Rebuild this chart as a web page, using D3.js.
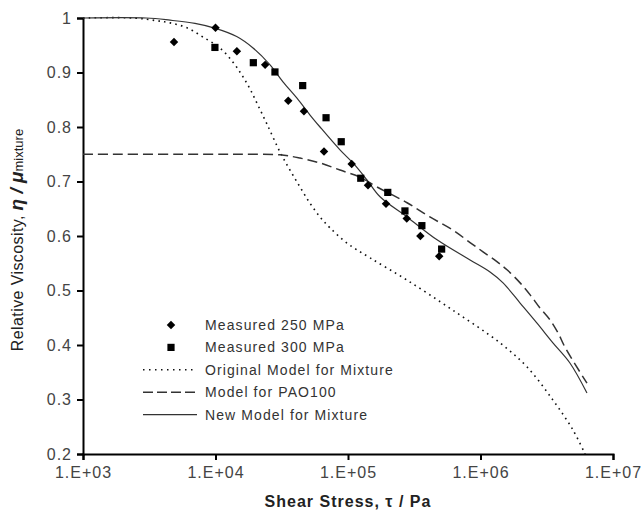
<!DOCTYPE html>
<html>
<head>
<meta charset="utf-8">
<script src="https://cdn.jsdelivr.net/npm/d3@7"></script>
<style>
  body { margin: 0; background: #fff; }
  svg { font-family: "Liberation Sans", Arial, sans-serif; }
</style>
</head>
<body>
<div id="graph"></div>
<script>
var width = 642;
var height = 515;

// measured points [shear stress Pa, relative viscosity]
var measured250 = [
  [4860, 0.956], [10000, 0.982], [14500, 0.939], [23700, 0.914], [35400, 0.848],
  [46500, 0.829], [65900, 0.755], [106600, 0.732], [141600, 0.693], [193600, 0.659],
  [277500, 0.632], [351600, 0.600], [488000, 0.563]
];
var measured300 = [
  [9900, 0.946], [19300, 0.918], [28100, 0.901], [45500, 0.876], [68300, 0.817],
  [88900, 0.773], [124800, 0.706], [199600, 0.680], [269000, 0.646], [361000, 0.619],
  [509000, 0.576]
];
// model curves
var originalModel = [
  [1000, 1.0], [2400, 1.0], [3610, 0.995], [4540, 0.991], [6100, 0.982], [8050, 0.965],
  [10800, 0.945], [13550, 0.919], [15850, 0.895], [18200, 0.870], [20900, 0.840],
  [24500, 0.805], [30700, 0.754], [36500, 0.721], [43400, 0.690], [51700, 0.660],
  [61500, 0.635], [73100, 0.615], [98200, 0.587], [146500, 0.560], [279000, 0.519],
  [617000, 0.464], [1400000, 0.404], [2240000, 0.360], [3520000, 0.299],
  [4990000, 0.244], [6150000, 0.2]
];
var pao100Model = [
  [1000, 0.75], [10000, 0.75], [16700, 0.75], [30700, 0.749], [43400, 0.743],
  [61500, 0.734], [87000, 0.721], [123000, 0.708], [165500, 0.690], [279000, 0.661],
  [415000, 0.635], [617000, 0.611], [834000, 0.588], [1045000, 0.571], [1330000, 0.553],
  [1585000, 0.538], [1990000, 0.514], [2370000, 0.492], [2810000, 0.468],
  [3350000, 0.446], [3850000, 0.422], [4340000, 0.396], [6360000, 0.330]
];
var newModel = [
  [1000, 1.0], [3000, 1.0], [4540, 0.996], [7000, 0.99], [10000, 0.981], [14450, 0.966],
  [19200, 0.945], [25800, 0.914], [32300, 0.883], [41200, 0.853], [51700, 0.822],
  [61500, 0.800], [87000, 0.758], [109000, 0.734], [139000, 0.703], [174500, 0.672],
  [279000, 0.635], [470000, 0.593], [834000, 0.556], [1180000, 0.534], [1480000, 0.514],
  [1990000, 0.477], [2670000, 0.440], [3520000, 0.404], [4730000, 0.367], [6360000, 0.312]
];

var xTicks = [1e3, 1e4, 1e5, 1e6, 1e7];
var xTickLabels = ["1.E+03", "1.E+04", "1.E+05", "1.E+06", "1.E+07"];
var yTicks = [0.2, 0.3, 0.4, 0.5, 0.6, 0.7, 0.8, 0.9, 1];
var legendLabels = ["Measured 250 MPa", "Measured 300 MPa", "Original Model for Mixture",
  "Model for PAO100", "New Model for Mixture"];

var margin = {left: 83, right: 29, top: 18, bottom: 61};

var svg = d3.select('#graph')
    .append('svg')
    .attr('width', width)
    .attr('height', height);

var x = d3.scaleLog().domain([1e3, 1e7]).range([margin.left, width - margin.right]);
var y = d3.scaleLinear().domain([0.2, 1]).range([height - margin.bottom, margin.top]);

// axes
var xAxis = svg.append('g')
    .attr('transform', 'translate(0,' + y(0.2) + ')')
    .call(d3.axisBottom(x).tickValues(xTicks).tickSize(6).tickPadding(7)
        .tickFormat(function(d, i) { return xTickLabels[i]; }));
var yAxis = svg.append('g')
    .attr('transform', 'translate(' + x(1e3) + ',0)')
    .call(d3.axisLeft(y).tickValues(yTicks).tickSize(6).tickPadding(5)
        .tickFormat(function(d) { return d === 1 ? "1" : d.toFixed(1); }));

[xAxis, yAxis].forEach(function(a) {
    a.select('.domain').attr('stroke', '#000').attr('stroke-width', 2);
    a.selectAll('.tick line').attr('stroke', '#000').attr('stroke-width', 2);
    a.selectAll('.tick text').attr('fill', '#444').style('font-size', '16px')
        .style('letter-spacing', '1px');
});

// model lines
var line = d3.line()
    .x(function(d) { return x(d[0]); })
    .y(function(d) { return y(d[1]); })
    .curve(d3.curveCatmullRom.alpha(0.5));

svg.append('path').datum(originalModel)
    .attr('d', line).attr('fill', 'none')
    .attr('stroke', '#111').attr('stroke-width', 1.6)
    .attr('stroke-dasharray', '1.6,4.2');
svg.append('path').datum(pao100Model)
    .attr('d', line).attr('fill', 'none')
    .attr('stroke', '#333').attr('stroke-width', 1.5)
    .attr('stroke-dasharray', '10,5');
svg.append('path').datum(newModel)
    .attr('d', line).attr('fill', 'none')
    .attr('stroke', '#333').attr('stroke-width', 1.2);

// markers
var diamond = d3.symbol().type(d3.symbolSquare).size(36);
var square = d3.symbol().type(d3.symbolSquare).size(52);

svg.selectAll('.m250').data(measured250).enter()
    .append('path').attr('class', 'm250')
    .attr('d', diamond)
    .attr('transform', function(d) { return 'translate(' + x(d[0]) + ',' + y(d[1]) + ') rotate(45)'; })
    .attr('fill', '#000');
svg.selectAll('.m300').data(measured300).enter()
    .append('path').attr('class', 'm300')
    .attr('d', square)
    .attr('transform', function(d) { return 'translate(' + x(d[0]) + ',' + y(d[1]) + ')'; })
    .attr('fill', '#000');

// legend
var legend = svg.append('g').attr('transform', 'translate(143,325)');
legendLabels.forEach(function(lab, i) {
    var g = legend.append('g').attr('transform', 'translate(0,' + (i * 22.4) + ')');
    if (i === 0) {
        g.append('path').attr('d', diamond).attr('transform', 'translate(28,0) rotate(45)').attr('fill', '#000');
    } else if (i === 1) {
        g.append('path').attr('d', square).attr('transform', 'translate(28,0)').attr('fill', '#000');
    } else {
        var ln = g.append('line').attr('x1', 0).attr('x2', 54).attr('y1', 0).attr('y2', 0)
            .attr('stroke', '#333');
        if (i === 2) ln.attr('stroke-dasharray', '1.5,4.5').attr('stroke-width', 1.4).attr('stroke', '#111');
        if (i === 3) ln.attr('stroke-dasharray', '10,4').attr('stroke-width', 1.4);
        if (i === 4) ln.attr('stroke-width', 1.1);
    }
    g.append('text').attr('x', 62).attr('y', 5)
        .attr('fill', '#333').style('font-size', '14px').style('letter-spacing', '1.1px')
        .text(lab);
});

// axis titles
svg.append('text')
    .attr('x', 348).attr('y', 507)
    .attr('text-anchor', 'middle')
    .style('font-size', '16px').style('font-weight', 'bold').attr('fill', '#222')
    .style('letter-spacing', '1px')
    .text('Shear Stress, τ / Pa');

var yt = svg.append('text')
    .attr('transform', 'translate(23,240) rotate(-90)')
    .attr('text-anchor', 'middle')
    .attr('fill', '#222');
yt.append('tspan').style('font-size', '16px').style('letter-spacing', '0.4px').text('Relative Viscosity, ');
yt.append('tspan').style('font-size', '19px').style('font-weight', 'bold')
    .style('font-style', 'italic').text('η / μ');
yt.append('tspan').style('font-size', '13px').text('mixture');
</script>
</body>
</html>
